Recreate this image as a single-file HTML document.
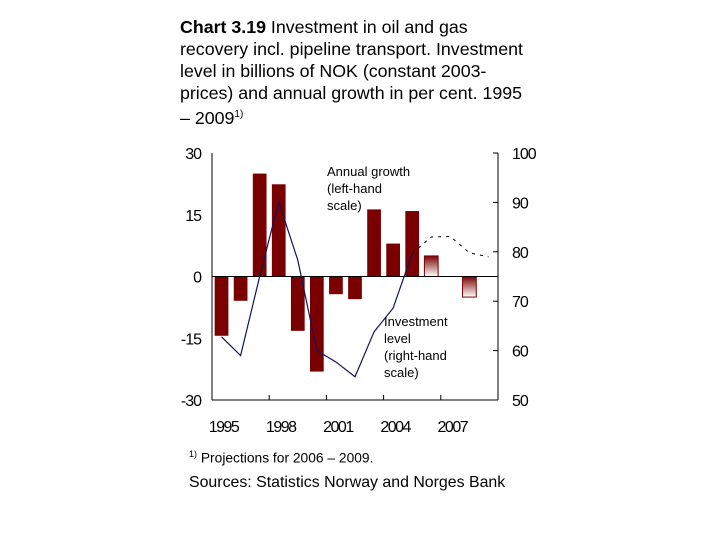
<!DOCTYPE html>
<html><head><meta charset="utf-8"><style>
body{margin:0;width:720px;height:540px;background:#fff;overflow:hidden;font-family:"Liberation Sans",Arial,sans-serif;}
#title{position:absolute;left:180px;top:16px;font-size:17.8px;line-height:22px;color:#000;white-space:nowrap;}
#foot{position:absolute;left:189px;top:449px;font-size:13.8px;color:#000;}
#src{position:absolute;left:189px;top:474px;font-size:15.9px;color:#000;}
svg{position:absolute;left:0;top:0;}
</style></head><body>
<div id="title"><b>Chart 3.19</b> Investment in oil and gas<br>recovery incl. pipeline transport. Investment<br>level in billions of NOK (constant 2003-<br>prices) and annual growth in per cent. 1995<br>– 2009<sup style="font-size:10px">1)</sup></div>
<svg id="chart" width="720" height="540">
<defs><linearGradient id="proj" x1="0" y1="0" x2="0" y2="1"><stop offset="0" stop-color="#7a0000"/><stop offset="1" stop-color="#fff"/></linearGradient></defs>
</svg>
<div id="foot"><sup style="font-size:9px">1)</sup> Projections for 2006 – 2009.</div>
<div id="src">Sources: Statistics Norway and Norges Bank</div>
<script>
const years=[1995,1996,1997,1998,1999,2000,2001,2002,2003,2004,2005,2006,2007,2008,2009];
const growth=[-14.4,-5.9,25,22.4,-13.2,-23.1,-4.3,-5.5,16.3,8,15.9,5,null,-5,null];
const projected=[false,false,false,false,false,false,false,false,false,false,false,true,true,true,true];
const level=[62.8,59,75,90.1,78.3,60,57.7,54.7,63.8,68.6,79.7,83,83.1,79.8,79];
const leftTicks=[30,15,0,-15,-30];
const rightTicks=[100,90,80,70,60,50];
const xLabels=[1995,1998,2001,2004,2007];
const L=212,R=498,T=153,B=400;
const svg=document.getElementById('chart');
const NS='http://www.w3.org/2000/svg';
const bw=(R-L)/years.length;
const xC=i=>L+bw*(i+0.5);
const yL=v=>T+(30-v)/60*(B-T);
const yR=v=>T+(100-v)/50*(B-T);
function mk(t,a){const e=document.createElementNS(NS,t);for(const k in a)e.setAttribute(k,a[k]);svg.appendChild(e);return e;}
let e=mk('line',{x1:L,y1:T,x2:L,y2:B,stroke:'#000'});

e=mk('line',{x1:R,y1:T,x2:R,y2:B,stroke:'#000'});

e=mk('line',{x1:L,y1:B,x2:R,y2:B,stroke:'#000'});

leftTicks.forEach(v=>{const t=mk('text',{x:201,y:yL(v)+6,'text-anchor':'end','font-size':'16','letter-spacing':'-1'});t.textContent=v;
});
rightTicks.forEach(v=>{mk('line',{x1:R-5,y1:yR(v),x2:R,y2:yR(v),stroke:'#000'});const t=mk('text',{x:512,y:yR(v)+6,'font-size':'16','letter-spacing':'-1'});t.textContent=v;
});
for(let i=1;i<years.length;i++){if((years[i]-1995)%3===0)mk('line',{x1:L+bw*i,y1:B-5,x2:L+bw*i,y2:B,stroke:'#000'});}
xLabels.forEach(y=>{const i=years.indexOf(y);const t=mk('text',{x:xC(i)+2,y:432,'text-anchor':'middle','font-size':'16','letter-spacing':'-1.5'});t.textContent=y;
});
growth.forEach((v,i)=>{if(v===null)return;const y0=yL(0),y1=yL(v);
const r=mk('rect',{x:xC(i)-bw*0.36,y:Math.min(y0,y1),width:bw*0.72,height:Math.abs(y1-y0),fill:projected[i]?'url(#proj)':'#7a0000',stroke:projected[i]?'#7a0000':'none','stroke-width':1});
});
e=mk('line',{x1:L,y1:yL(0),x2:R,y2:yL(0),stroke:'#000'});

let solid='',dash='';
level.forEach((v,i)=>{const p=xC(i)+','+yR(v);if(!projected[i])solid+=(solid?' ':'')+p;if(projected[i]||(i+1<level.length&&projected[i+1]))dash+=(dash?' ':'')+p;});
e=mk('polyline',{points:solid,fill:'none',stroke:'#14145a','stroke-width':1.2});

e=mk('polyline',{points:dash,fill:'none',stroke:'#000','stroke-width':1,'stroke-dasharray':'3,5'});

function lab(x,y,lines,name){const t=mk('text',{x:x,y:y,'font-size':'13'});lines.forEach((s,k)=>{const ts=document.createElementNS(NS,'tspan');ts.setAttribute('x',x);ts.setAttribute('dy',k?17:0);ts.textContent=s;t.appendChild(ts);});
}
lab(327,176,['Annual growth','(left-hand','scale)'],'growth-annotation');
lab(384,326,['Investment','level','(right-hand','scale)'],'level-annotation');
</script>
</body></html>
